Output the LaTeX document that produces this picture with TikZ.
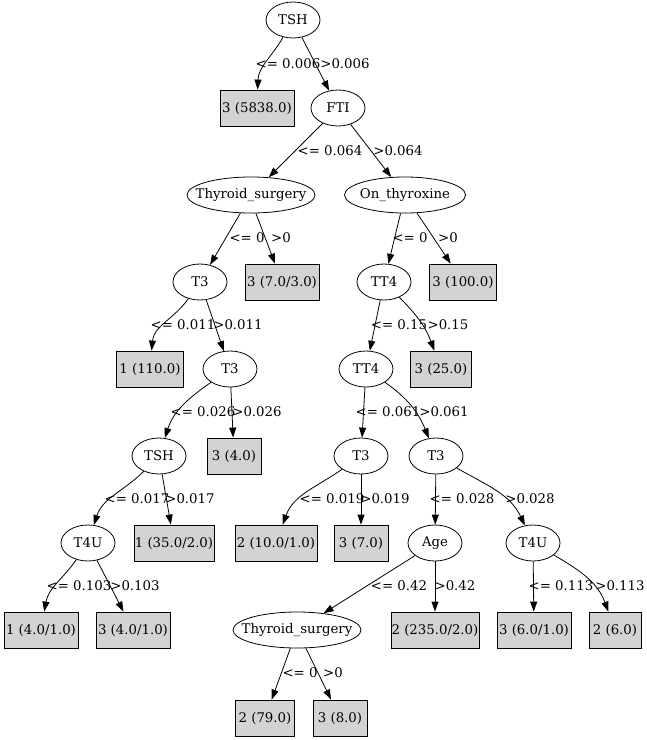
\documentclass[tikz,border=0pt]{standalone}
\usepackage{fontspec}
\setmainfont{DejaVu Serif}
\usetikzlibrary{shapes.geometric,arrows.meta}

\definecolor{leafgray}{HTML}{D3D3D3}
% text of a fixed-size node, kept from widening the outline
\newcommand\fixedtext[1]{\makebox[0pt]{#1}}

\tikzset{
  split/.style={ellipse, draw=black, line width=0.8pt, inner sep=0pt,
                minimum width=54pt, minimum height=36pt},
  leaf/.style={rectangle, draw=black, line width=0.8pt, fill=leafgray,
               inner sep=0pt, minimum height=36pt},
  edge/.style={draw=black, line width=0.8pt, -{Triangle[length=10pt,width=7pt]}},
  lbl/.style={inner sep=0pt, anchor=center},
}

\begin{document}
\begin{tikzpicture}[x=1pt, y=-1pt, font=\fontsize{13.3pt}{15pt}\selectfont]
\useasboundingbox (0,0) rectangle (647,740);

% ---- splits and leaves ----
\node[split] (tsh) at (293,20) {TSH};
\node[leaf, minimum width=74pt] (l5838) at (257,108) {3 (5838.0)};
\node[split] (fti) at (338,108) {FTI};

\node[split, minimum width=128pt] (ts1) at (251,195) {\fixedtext{Thyroid\_surgery}};
\node[split, minimum width=121pt] (onth) at (405,195) {\fixedtext{On\_thyroxine}};

\node[split] (t3a) at (200,282) {T3};
\node[leaf, minimum width=74pt] (l7030) at (282,282) {3 (7.0/3.0)};
\node[split] (tt4a) at (384,282) {TT4};
\node[leaf, minimum width=67pt] (l100) at (463,282) {3 (100.0)};

\node[leaf, minimum width=67pt] (l110) at (150,369) {1 (110.0)};
\node[split] (t3b) at (230,369) {T3};
\node[split] (tt4b) at (366,369) {TT4};
\node[leaf, minimum width=61pt] (l25) at (441,369) {3 (25.0)};

\node[split] (tshb) at (159,456) {TSH};
\node[leaf, minimum width=54pt] (l4) at (234,456) {3 (4.0)};
\node[split] (t3c) at (361,456) {T3};
\node[split] (t3d) at (436,456) {T3};

\node[split] (t4ua) at (88,543) {T4U};
\node[leaf, minimum width=80pt] (l3520) at (174,543) {1 (35.0/2.0)};
\node[leaf, minimum width=82pt] (l1010) at (276,543) {2 (10.0/1.0)};
\node[leaf, minimum width=54pt] (l7) at (361,543) {3 (7.0)};
\node[split] (age) at (435,543) {Age};
\node[split] (t4ub) at (533,543) {T4U};

\node[leaf, minimum width=74pt] (l4010a) at (41,630) {1 (4.0/1.0)};
\node[leaf, minimum width=74pt] (l4010b) at (133,630) {3 (4.0/1.0)};
\node[split, minimum width=128pt] (ts2) at (297,630) {\fixedtext{Thyroid\_surgery}};
\node[leaf, minimum width=88pt] (l23520) at (435,630) {2 (235.0/2.0)};
\node[leaf, minimum width=74pt] (l6010) at (534,630) {3 (6.0/1.0)};
\node[leaf, minimum width=52pt] (l6) at (615,630) {2 (6.0)};

\node[leaf, minimum width=59pt] (l79) at (265,718) {2 (79.0)};
\node[leaf, minimum width=54pt] (l8) at (340,718) {3 (8.0)};

% ---- connectors ----
\draw[edge] (tsh) to[out=240, in=88] (l5838);
\draw[edge] (tsh) -- (fti);
\draw[edge] (fti) -- (ts1);
\draw[edge] (fti) -- (onth);
\draw[edge] (ts1) -- (t3a);
\draw[edge] (ts1.-75) -- (l7030);
\draw[edge] (onth) -- (tt4a);
\draw[edge] (onth) -- (l100);
\draw[edge] (t3a) to[out=235, in=85] (l110);
\draw[edge] (t3a) -- (t3b);
\draw[edge] (tt4a) -- (tt4b);
\draw[edge] (tt4a) to[out=-45, in=110] (l25);
\draw[edge] (t3b) to[out=215, in=72] (tshb);
\draw[edge] (t3b) -- (l4);
\draw[edge] (tt4b) -- (t3c);
\draw[edge] (tt4b) to[out=-35, in=112] (t3d);
\draw[edge] (tshb) to[out=225, in=72] (t4ua);
\draw[edge] (tshb) -- (l3520);
\draw[edge] (t3c) to[out=215, in=70] (l1010);
\draw[edge] (t3c) -- (l7);
\draw[edge] (t3d) -- (age);
\draw[edge] (t3d) to[out=-30, in=115] (t4ub);
\draw[edge] (t4ua) to[out=235, in=80] (l4010a);
\draw[edge] (t4ua) -- (l4010b);
\draw[edge] (age) -- (ts2);
\draw[edge] (age) -- (l23520);
\draw[edge] (t4ub) -- (l6010);
\draw[edge] (t4ub) to[out=-30, in=110] (l6);
\draw[edge] (ts2) -- (l79);
\draw[edge] (ts2) -- (l8);

% ---- branch labels ----
\node[lbl] (e1a) at (288,64) {<= 0.006};
\node[lbl] (e1b) at (345,64) {>0.006};
\node[lbl] (e2a) at (330,151) {<= 0.064};
\node[lbl] (e2b) at (398,151) {>0.064};
\node[lbl] (e3a) at (247,238) {<= 0};
\node[lbl] (e3b) at (281,238) {>0};
\node[lbl] (e4a) at (410,238) {<= 0};
\node[lbl] (e4b) at (448,238) {>0};
\node[lbl] (e5a) at (183,325) {<= 0.011};
\node[lbl] (e5b) at (238,325) {>0.011};
\node[lbl] (e6a) at (399,325) {<= 0.15};
\node[lbl] (e6b) at (448,325) {>0.15};
\node[lbl] (e7a) at (203,412) {<= 0.026};
\node[lbl] (e7b) at (257,412) {>0.026};
\node[lbl] (e8a) at (388,412) {<= 0.061};
\node[lbl] (e8b) at (444,412) {>0.061};
\node[lbl] (e9a) at (137,499) {<= 0.017};
\node[lbl] (e9b) at (190,499) {>0.017};
\node[lbl] (e10a) at (332,499) {<= 0.019};
\node[lbl] (e10b) at (385,499) {>0.019};
\node[lbl] (e11a) at (462,499) {<= 0.028};
\node[lbl] (e11b) at (530,499) {>0.028};
\node[lbl] (e12a) at (79,586) {<= 0.103};
\node[lbl] (e12b) at (135,586) {>0.103};
\node[lbl] (e13a) at (399,586) {<= 0.42};
\node[lbl] (e13b) at (455,586) {>0.42};
\node[lbl] (e14a) at (561,586) {<= 0.113};
\node[lbl] (e14b) at (620,586) {>0.113};
\node[lbl] (e15a) at (300,673) {<= 0};
\node[lbl] (e15b) at (333,673) {>0};
\end{tikzpicture}
\end{document}
